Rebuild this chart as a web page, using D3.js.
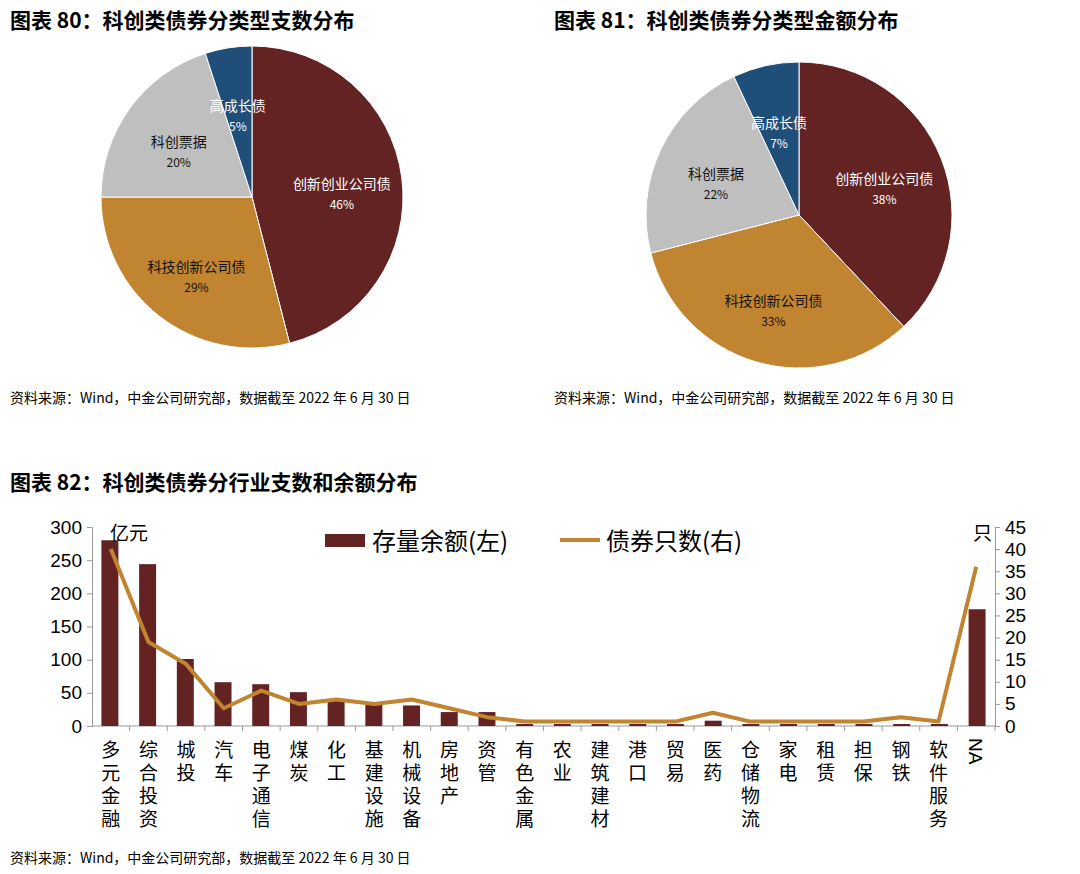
<!DOCTYPE html>
<html><head><meta charset="utf-8">
<script src="https://cdn.jsdelivr.net/npm/d3@7"></script>
<style>body{margin:0;background:#fff;font-family:"Noto Sans CJK SC","Noto Sans",sans-serif;}</style>
</head><body><svg id="c" width="1080" height="874"></svg>
<script>
var pieCats = ["创新创业公司债", "科技创新公司债", "科创票据", "高成长债"];
var pieCount = [46, 29, 20, 5];
var pieAmount = [38, 33, 22, 7];
var pieColors = ["#632323", "#C18430", "#BFBFBF", "#1F4E79"];
var pieText = ["#fff", "#111", "#111", "#fff"];

var industries = ["多元金融","综合投资","城投","汽车","电子通信","煤炭","化工","基建设施","机械设备","房地产","资管","有色金属","农业","建筑建材","港口","贸易","医药","仓储物流","家电","租赁","担保","钢铁","软件服务","NA"];
var balance = [280,244,101,66,63,51,40,35,31,21,21,3,3,3,3,3,8,3,3,3,3,3,3,176];
var counts = [40,19,14,4,8,5,6,5,6,4,2,1,1,1,1,1,3,1,1,1,1,2,1,36];
var leftTicks = [0,50,100,150,200,250,300];
var rightTicks = [0,5,10,15,20,25,30,35,40,45];

var svg = d3.select("#c");
var font = '"Noto Sans CJK SC",sans-serif';

function text(x, y, s, size, weight, anchor) {
    return svg.append("text").attr("x", x).attr("y", y).text(s)
        .style("font-size", size + "px").style("font-weight", weight || "normal")
        .style("font-family", font).attr("text-anchor", anchor || "start");
}

text(10, 28, "图表 80：科创类债券分类型支数分布", 21, "bold");
text(554, 28, "图表 81：科创类债券分类型金额分布", 21, "bold");
text(10, 490, "图表 82：科创类债券分行业支数和余额分布", 21, "bold");
text(10, 403, "资料来源：Wind，中金公司研究部，数据截至 2022 年 6 月 30 日", 14);
text(554, 403, "资料来源：Wind，中金公司研究部，数据截至 2022 年 6 月 30 日", 14);
text(10, 863, "资料来源：Wind，中金公司研究部，数据截至 2022 年 6 月 30 日", 14);

function drawPie(cx, cy, r, vals, labR) {
    var arcs = d3.pie().sort(null)(vals);
    var arc = d3.arc().innerRadius(0).outerRadius(r);
    var g = svg.append("g").attr("transform", "translate(" + cx + "," + cy + ")");
    g.selectAll("path").data(arcs).enter().append("path")
        .attr("d", arc).attr("fill", function(d, i) { return pieColors[i]; })
        .attr("stroke", "#fff").attr("stroke-width", 1);
    var la = d3.arc().innerRadius(r * labR).outerRadius(r * labR);
    arcs.forEach(function(d, i) {
        var p = la.centroid(d);
        g.append("text").attr("x", p[0]).attr("y", p[1] + 3).attr("text-anchor", "middle")
            .style("font-size", "14px").style("font-family", font).attr("fill", pieText[i]).text(pieCats[i]);
        g.append("text").attr("x", p[0]).attr("y", p[1] + 23).attr("text-anchor", "middle")
            .style("font-size", "12px").style("font-family", font).attr("fill", pieText[i]).text(vals[i] + "%");
    });
}
drawPie(252, 197, 151, pieCount, 0.6);
drawPie(799, 215, 153, pieAmount, 0.6);

// bar + line chart
var x0 = 92, x1 = 995, yb = 726, yt = 527;
var x = d3.scaleBand().domain(industries).range([x0, x1]).paddingInner(0.55).paddingOuter(0.25);
var xp = d3.scaleBand().domain(industries).range([x0, x1]);
var yl = d3.scaleLinear().domain([0, 300]).range([yb, yt]);
var yr = d3.scaleLinear().domain([0, 45]).range([yb, yt]);

var gl = svg.append("g").attr("transform", "translate(" + x0 + ",0)")
    .call(d3.axisLeft(yl).tickValues(leftTicks).tickSize(5));
var gr = svg.append("g").attr("transform", "translate(" + x1 + ",0)")
    .call(d3.axisRight(yr).tickValues(rightTicks).tickSize(5));
[gl, gr].forEach(function(g) {
    g.selectAll("text").style("font-size", "19px").style("font-family", "Liberation Sans, Arial").attr("fill", "#000");
    g.select(".domain").attr("stroke", "#999");
    g.selectAll("line").attr("stroke", "#999");
});
gr.selectAll("text").attr("x", 10);
gl.selectAll("text").attr("x", -10);

svg.append("line").attr("x1", x0).attr("x2", x1).attr("y1", yb).attr("y2", yb).attr("stroke", "#999");
svg.selectAll(".xt").data(industries).enter().append("line")
    .attr("x1", function(d) { return xp(d) + xp.bandwidth(); })
    .attr("x2", function(d) { return xp(d) + xp.bandwidth(); })
    .attr("y1", yb).attr("y2", yb + 5).attr("stroke", "#999");

svg.selectAll(".bar").data(industries).enter().append("rect")
    .attr("x", function(d) { return x(d); })
    .attr("width", x.bandwidth())
    .attr("y", function(d, i) { return yl(balance[i]); })
    .attr("height", function(d, i) { return yb - yl(balance[i]); })
    .attr("fill", "#632323");

var line = d3.line()
    .x(function(d, i) { return xp(industries[i]) + xp.bandwidth() / 2; })
    .y(function(d) { return yr(d); });
svg.append("path").datum(counts).attr("d", line).attr("fill", "none")
    .attr("stroke", "#C18430").attr("stroke-width", 4).attr("stroke-linejoin", "round");

// vertical category labels
industries.forEach(function(c, i) {
    var cx = xp(c) + xp.bandwidth() / 2;
    if (c === "NA") {
        svg.append("text").attr("transform", "translate(" + (cx - 7) + ",738) rotate(90)")
            .style("font-size", "19px").style("font-family", "Liberation Sans, Arial").text("NA");
        return;
    }
    var t = svg.append("text").attr("text-anchor", "middle")
        .style("font-size", "19px").style("font-family", font);
    c.split("").forEach(function(ch, j) {
        t.append("tspan").attr("x", cx).attr("y", 757 + j * 23).text(ch);
    });
});

text(110, 540, "亿元", 19);
text(992, 540, "只", 19, "normal", "end");

// legend
svg.append("rect").attr("x", 325).attr("y", 534).attr("width", 40).attr("height", 13).attr("fill", "#632323");
text(372, 550, "存量余额(左)", 24);
svg.append("line").attr("x1", 560).attr("x2", 600).attr("y1", 540).attr("y2", 540)
    .attr("stroke", "#C18430").attr("stroke-width", 4);
text(606, 550, "债券只数(右)", 24);
</script></body></html>
